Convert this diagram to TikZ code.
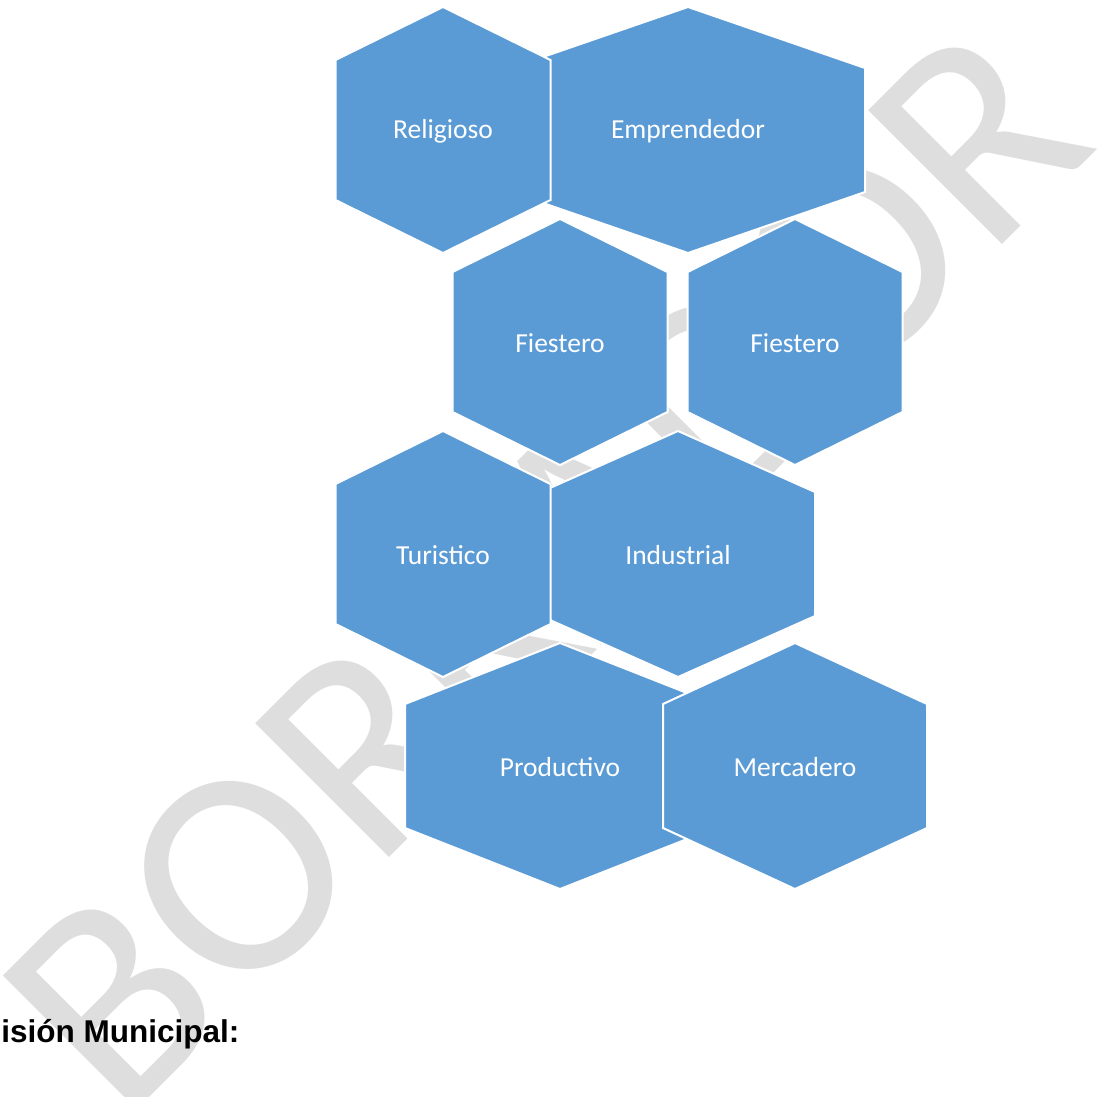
\documentclass[tikz,border=0pt]{standalone}
\usepackage{fontspec}
\setmainfont{Liberation Sans}
\newfontfamily\calib{Carlito}
\definecolor{hexblue}{RGB}{91,155,213}
\definecolor{wmgray}{RGB}{222,222,222}
\tikzset{
  hexa/.style={fill=hexblue, draw=white, line width=2pt, line join=miter},
  hexlabel/.style={text=white, inner sep=0pt, font=\calib\fontsize{27.5}{30}\selectfont},
  wmark/.style={text=wmgray, inner sep=0pt, rotate=45, anchor=base west, font=\calib\fontsize{295}{295}\selectfont},
  headtext/.style={text=black, inner sep=0pt, anchor=base east, font=\bfseries\fontsize{31.5}{36}\selectfont}
}
% #1 name, #2 cx, #3 cy, #4 half width, #5 rise, #6 label
\newcommand\hexcell[6]{%
  \path[hexa] (#2,#3-123) -- (#2+#4,#3-123+#5) -- (#2+#4,#3+123-#5) -- (#2,#3+123)
     -- (#2-#4,#3+123-#5) -- (#2-#4,#3-123+#5) -- cycle;
  \node[hexlabel] (#1) at (#2,#3+1.5) {#6};
}
\begin{document}
\begin{tikzpicture}[x=1pt,y=-1pt]
\useasboundingbox (0,0) rectangle (1108,1096);
\clip (0,0) rectangle (1108,1096);
\fill[white] (0,0) rectangle (1108,1096);
% watermark
\node[wmark] (wm) at (122.4,1124.6) {BORRADOR};
% row 1
\hexcell{emp}{688}{130}{177}{61}{Emprendedor}
\hexcell{rel}{443}{130}{107.5}{53}{Religioso}
% row 2
\hexcell{fie1}{560}{342}{107.5}{53}{Fiestero}
\hexcell{fie2}{795}{342}{107.5}{53}{Fiestero}
% row 3
\hexcell{ind}{678}{554}{137}{61}{Industrial}
\hexcell{tur}{443}{554}{107.5}{53}{Turistico}
% row 4
\hexcell{pro}{560}{766}{155}{61}{Productivo}
\hexcell{mer}{795}{766}{132}{61}{Mercadero}
% heading
\node[headtext] (head) at (239.5,1042.5) {isión Municipal:};
\end{tikzpicture}
\end{document}
